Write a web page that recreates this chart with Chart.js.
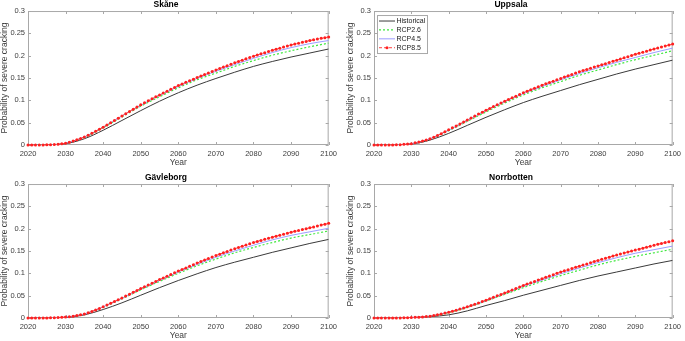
<!DOCTYPE html>
<html>
<head>
<meta charset="utf-8">
<script src="https://cdn.jsdelivr.net/npm/chart.js@4"></script>
<style>
  html, body { margin: 0; padding: 0; background: #fff; width: 685px; height: 341px; overflow: hidden; }
  canvas { position: absolute; }
</style>
</head>
<body>
<canvas id="c0" width="341" height="170" style="left:0;top:0"></canvas>
<canvas id="c1" width="339" height="170" style="left:346px;top:0"></canvas>
<canvas id="c2" width="341" height="170" style="left:0;top:173px"></canvas>
<canvas id="c3" width="339" height="170" style="left:346px;top:173px"></canvas>
<script>
// ---- data ----
const regions = ['Skåne', 'Uppsala', 'Gävleborg', 'Norrbotten'];
const seriesNames = ['Historical', 'RCP2.6', 'RCP4.5', 'RCP8.5'];

const xTicks = [2020, 2030, 2040, 2050, 2060, 2070, 2080, 2090, 2100];
const yTicks = [0, 0.05, 0.1, 0.15, 0.2, 0.25, 0.3];
const yTickLabels = ['0', '0.05', '0.1', '0.15', '0.2', '0.25', '0.3'];

const years5 = [2020, 2025, 2030, 2035, 2040, 2045, 2050, 2055, 2060, 2065, 2070, 2075, 2080, 2085, 2090, 2095, 2100];
const years1 = [2020, 2021, 2022, 2023, 2024, 2025, 2026, 2027, 2028, 2029,
  2030, 2031, 2032, 2033, 2034, 2035, 2036, 2037, 2038, 2039,
  2040, 2041, 2042, 2043, 2044, 2045, 2046, 2047, 2048, 2049,
  2050, 2051, 2052, 2053, 2054, 2055, 2056, 2057, 2058, 2059,
  2060, 2061, 2062, 2063, 2064, 2065, 2066, 2067, 2068, 2069,
  2070, 2071, 2072, 2073, 2074, 2075, 2076, 2077, 2078, 2079,
  2080, 2081, 2082, 2083, 2084, 2085, 2086, 2087, 2088, 2089,
  2090, 2091, 2092, 2093, 2094, 2095, 2096, 2097, 2098, 2099, 2100];

// Skåne
const skaneHist  = [0, 0.0002, 0.003, 0.014, 0.033, 0.055, 0.077, 0.098, 0.117, 0.134, 0.149, 0.163, 0.176, 0.187, 0.197, 0.206, 0.215];
const skaneRcp26 = [0, 0.0002, 0.004, 0.017, 0.039, 0.063, 0.087, 0.108, 0.128, 0.146, 0.161, 0.176, 0.189, 0.201, 0.211, 0.220, 0.228];
const skaneRcp45 = [0, 0.0002, 0.004, 0.018, 0.040, 0.065, 0.089, 0.111, 0.131, 0.149, 0.165, 0.180, 0.194, 0.207, 0.218, 0.227, 0.234];
const skaneRcp85 = [0, 0, 0, 0, 0.0002, 0.0003, 0.0006, 0.001, 0.0018, 0.0028,
  0.004, 0.0062, 0.0088, 0.0118, 0.0148, 0.018, 0.022, 0.0262, 0.0306, 0.0352,
  0.040, 0.045, 0.050, 0.055, 0.060, 0.065, 0.070, 0.075, 0.080, 0.085,
  0.090, 0.0945, 0.099, 0.1035, 0.108, 0.112, 0.1163, 0.1205, 0.1248, 0.129,
  0.133, 0.1367, 0.1403, 0.144, 0.1475, 0.151, 0.1544, 0.1578, 0.1612, 0.1646,
  0.168, 0.1712, 0.1744, 0.1776, 0.1808, 0.184, 0.187, 0.190, 0.193, 0.196,
  0.199, 0.2016, 0.2042, 0.2068, 0.2094, 0.212, 0.2144, 0.2168, 0.2192, 0.2216,
  0.224, 0.226, 0.228, 0.230, 0.232, 0.234, 0.2356, 0.2372, 0.2388, 0.2404, 0.242];

// Uppsala
const uppsalaHist  = [0, 0.0001, 0.002, 0.011, 0.026, 0.044, 0.062, 0.079, 0.095, 0.109, 0.122, 0.135, 0.147, 0.159, 0.170, 0.180, 0.190];
const uppsalaRcp26 = [0, 0.0002, 0.003, 0.013, 0.032, 0.053, 0.074, 0.094, 0.112, 0.128, 0.142, 0.156, 0.168, 0.180, 0.191, 0.201, 0.211];
const uppsalaRcp45 = [0, 0.0002, 0.003, 0.014, 0.033, 0.055, 0.077, 0.097, 0.115, 0.131, 0.146, 0.160, 0.173, 0.185, 0.196, 0.207, 0.217];
const uppsalaRcp85 = [0, 0, 0, 0, 0.0001, 0.0002, 0.0004, 0.0008, 0.0014, 0.0021,
  0.003, 0.0048, 0.0068, 0.009, 0.0114, 0.014, 0.0176, 0.0214, 0.0254, 0.0296,
  0.034, 0.0384, 0.0428, 0.0472, 0.0516, 0.056, 0.0604, 0.0648, 0.0692, 0.0736,
  0.078, 0.082, 0.086, 0.090, 0.094, 0.098, 0.1018, 0.1056, 0.1094, 0.1132,
  0.117, 0.1204, 0.1238, 0.1272, 0.1306, 0.134, 0.137, 0.140, 0.143, 0.146,
  0.149, 0.152, 0.155, 0.158, 0.161, 0.164, 0.1666, 0.1692, 0.1718, 0.1744,
  0.177, 0.1796, 0.1822, 0.1848, 0.1874, 0.190, 0.1926, 0.1952, 0.1978, 0.2004,
  0.203, 0.2054, 0.2078, 0.2102, 0.2126, 0.215, 0.2172, 0.2194, 0.2216, 0.2238, 0.226];

// Gävleborg
const gavleHist  = [0, 0, 0.001, 0.007, 0.019, 0.034, 0.051, 0.068, 0.084, 0.099, 0.113, 0.125, 0.136, 0.147, 0.157, 0.167, 0.176];
const gavleRcp26 = [0, 0.0001, 0.002, 0.009, 0.024, 0.043, 0.063, 0.082, 0.100, 0.117, 0.132, 0.146, 0.158, 0.169, 0.179, 0.187, 0.195];
const gavleRcp45 = [0, 0.0001, 0.002, 0.009, 0.025, 0.044, 0.065, 0.084, 0.103, 0.120, 0.136, 0.150, 0.163, 0.175, 0.185, 0.193, 0.201];
const gavleRcp85 = [0, 0, 0, 0, 0, 0.0001, 0.0003, 0.0006, 0.001, 0.0015,
  0.002, 0.0028, 0.004, 0.0055, 0.0072, 0.009, 0.0118, 0.0148, 0.018, 0.0214,
  0.025, 0.029, 0.033, 0.037, 0.041, 0.045, 0.0492, 0.0534, 0.0576, 0.0618,
  0.066, 0.070, 0.074, 0.078, 0.082, 0.086, 0.0898, 0.0936, 0.0974, 0.1012,
  0.105, 0.1086, 0.1122, 0.1158, 0.1194, 0.123, 0.1264, 0.1298, 0.1332, 0.1366,
  0.140, 0.143, 0.146, 0.149, 0.152, 0.155, 0.1578, 0.1606, 0.1634, 0.1662,
  0.169, 0.1714, 0.1738, 0.1762, 0.1786, 0.181, 0.1832, 0.1854, 0.1876, 0.1898,
  0.192, 0.194, 0.196, 0.198, 0.200, 0.202, 0.204, 0.206, 0.208, 0.210, 0.212];

// Norrbotten
const norrHist  = [0, 0, 0.001, 0.003, 0.007, 0.016, 0.028, 0.039, 0.051, 0.062, 0.073, 0.084, 0.094, 0.103, 0.112, 0.121, 0.129];
const norrRcp26 = [0, 0, 0.001, 0.004, 0.012, 0.024, 0.038, 0.053, 0.068, 0.082, 0.095, 0.107, 0.119, 0.129, 0.138, 0.146, 0.154];
const norrRcp45 = [0, 0, 0.001, 0.004, 0.013, 0.025, 0.039, 0.055, 0.071, 0.085, 0.099, 0.112, 0.124, 0.135, 0.145, 0.153, 0.161];
const norrRcp85 = [0, 0, 0, 0, 0, 0, 0.0001, 0.0002, 0.0004, 0.0007,
  0.001, 0.0014, 0.0019, 0.0025, 0.0032, 0.004, 0.0055, 0.0072, 0.009, 0.011,
  0.013, 0.0152, 0.0175, 0.0199, 0.0224, 0.025, 0.0279, 0.0308, 0.0338, 0.0369,
  0.040, 0.0432, 0.0464, 0.0496, 0.0528, 0.056, 0.0594, 0.0628, 0.0662, 0.0696,
  0.073, 0.076, 0.079, 0.082, 0.085, 0.088, 0.091, 0.094, 0.097, 0.100,
  0.103, 0.1056, 0.1082, 0.1108, 0.1134, 0.116, 0.1186, 0.1212, 0.1238, 0.1264,
  0.129, 0.1314, 0.1338, 0.1362, 0.1386, 0.141, 0.1432, 0.1454, 0.1476, 0.1498,
  0.152, 0.1542, 0.1564, 0.1586, 0.1608, 0.163, 0.165, 0.167, 0.169, 0.171, 0.173];

const histAll  = [skaneHist, uppsalaHist, gavleHist, norrHist];
const rcp26All = [skaneRcp26, uppsalaRcp26, gavleRcp26, norrRcp26];
const rcp45All = [skaneRcp45, uppsalaRcp45, gavleRcp45, norrRcp45];
const rcp85All = [skaneRcp85, uppsalaRcp85, gavleRcp85, norrRcp85];

// ---- drawing ----
const FONT = '"Liberation Sans", Arial, sans-serif';
const AXIS_GREY = '#a8a8a8';
const TEXT_GREY = '#3c3c3c';

const toPts = (xs, ys) => xs.map((x, i) => ({ x: x, y: ys[i] }));

// MATLAB style box with inward ticks
const boxTicks = {
  id: 'boxTicks',
  beforeDatasetsDraw(chart) {
    const { ctx, chartArea: a, scales: { x, y } } = chart;
    ctx.save();
    ctx.strokeStyle = AXIS_GREY;
    ctx.lineWidth = 1;
    ctx.strokeRect(a.left + 0.5, a.top + 0.5, a.right - a.left - 1, a.bottom - a.top - 1);
    ctx.beginPath();
    x.ticks.forEach(t => {
      const px = Math.round(x.getPixelForValue(t.value)) + 0.5;
      ctx.moveTo(px, a.bottom); ctx.lineTo(px, a.bottom - 3);
      ctx.moveTo(px, a.top); ctx.lineTo(px, a.top + 3);
    });
    y.ticks.forEach(t => {
      const py = Math.round(y.getPixelForValue(t.value)) + 0.5;
      ctx.moveTo(a.left, py); ctx.lineTo(a.left + 3, py);
      ctx.moveTo(a.right, py); ctx.lineTo(a.right - 3, py);
    });
    ctx.stroke();
    ctx.restore();
  }
};

const legendBox = {
  id: 'legendBox',
  afterDatasetsDraw(chart, args, opts) {
    if (!opts.show) return;
    const { ctx, chartArea: a } = chart;
    const x0 = a.left + 3, y0 = a.top + 4, w = 50, h = 38;
    ctx.save();
    ctx.fillStyle = '#fff';
    ctx.fillRect(x0, y0, w, h);
    ctx.strokeStyle = AXIS_GREY;
    ctx.lineWidth = 1;
    ctx.strokeRect(x0 + 0.5, y0 + 0.5, w, h);
    chart.data.datasets.forEach((ds, i) => {
      const yy = y0 + 6 + i * 8.9;
      ctx.strokeStyle = ds.borderColor;
      ctx.lineWidth = ds.borderWidth;
      ctx.setLineDash(ds.borderDash || []);
      ctx.beginPath();
      ctx.moveTo(x0 + 2, yy); ctx.lineTo(x0 + 18, yy);
      ctx.stroke();
      ctx.setLineDash([]);
      if (ds.pointRadius) {
        ctx.fillStyle = ds.pointBackgroundColor;
        ctx.beginPath();
        ctx.arc(x0 + 10, yy, ds.pointRadius, 0, 2 * Math.PI);
        ctx.fill();
      }
      ctx.fillStyle = '#1a1a1a';
      ctx.font = '7px ' + FONT;
      ctx.textBaseline = 'middle';
      ctx.fillText(ds.label, x0 + 19.5, yy + 0.5);
    });
    ctx.restore();
  }
};

function makeChart(id, idx) {
  return new Chart(document.getElementById(id), {
    type: 'line',
    data: {
      datasets: [
        { label: seriesNames[0], data: toPts(years5, histAll[idx]), borderColor: '#3a3a3a',
          borderWidth: 1, pointRadius: 0, order: 3 },
        { label: seriesNames[1], data: toPts(years5, rcp26All[idx]), borderColor: '#3ee83e',
          borderWidth: 1.2, borderDash: [2, 2], pointRadius: 0, order: 2 },
        { label: seriesNames[2], data: toPts(years5, rcp45All[idx]), borderColor: '#9c9cff',
          borderWidth: 1, pointRadius: 0, order: 1 },
        { label: seriesNames[3], data: toPts(years1, rcp85All[idx]), borderColor: '#ff4040',
          borderWidth: 1, borderDash: [3, 2], pointRadius: 1.5, pointBackgroundColor: '#ff2020',
          pointBorderWidth: 0, order: 0, clip: 4 }
      ]
    },
    options: {
      responsive: false,
      animation: false,
      events: [],
      layout: { padding: { left: 0, right: 9, top: 0, bottom: 0 } },
      elements: { line: { cubicInterpolationMode: 'monotone' } },
      plugins: {
        legend: { display: false },
        tooltip: { enabled: false },
        legendBox: { show: idx === 1 },
        title: {
          display: true,
          text: regions[idx],
          color: '#000',
          font: { family: FONT, size: 8.5, weight: 'bold', lineHeight: 1.18 },
          padding: { top: 0, bottom: 1 }
        }
      },
      scales: {
        x: {
          type: 'linear',
          min: 2020,
          max: 2100,
          afterBuildTicks: s => { s.ticks = xTicks.map(v => ({ value: v })); },
          afterFit: s => { s.height = 25; },
          grid: { display: false, drawTicks: false },
          border: { display: false },
          ticks: {
            padding: 4,
            color: TEXT_GREY,
            font: { family: FONT, size: 7.5 },
            maxRotation: 0,
            autoSkip: false,
            callback: v => String(v)
          },
          title: {
            display: true,
            text: 'Year',
            color: TEXT_GREY,
            font: { family: FONT, size: 8.5, lineHeight: 1.2 },
            padding: { top: 0, bottom: 2.5 }
          }
        },
        y: {
          type: 'linear',
          min: 0,
          max: 0.3,
          afterBuildTicks: s => { s.ticks = yTicks.map(v => ({ value: v })); },
          afterFit: s => { s.width = 28; },
          grid: { display: false, drawTicks: false },
          border: { display: false },
          ticks: {
            padding: 3,
            color: TEXT_GREY,
            font: { family: FONT, size: 7.5 },
            autoSkip: false,
            callback: v => yTickLabels[yTicks.indexOf(v)]
          },
          title: {
            display: true,
            text: 'Probability of severe cracking',
            color: TEXT_GREY,
            font: { family: FONT, size: 8.5, lineHeight: 1.2 },
            padding: { top: 0, bottom: 0 }
          }
        }
      }
    },
    plugins: [boxTicks, legendBox]
  });
}

const charts = ['c0', 'c1', 'c2', 'c3'].map((id, i) => makeChart(id, i));
</script>
</body>
</html>
